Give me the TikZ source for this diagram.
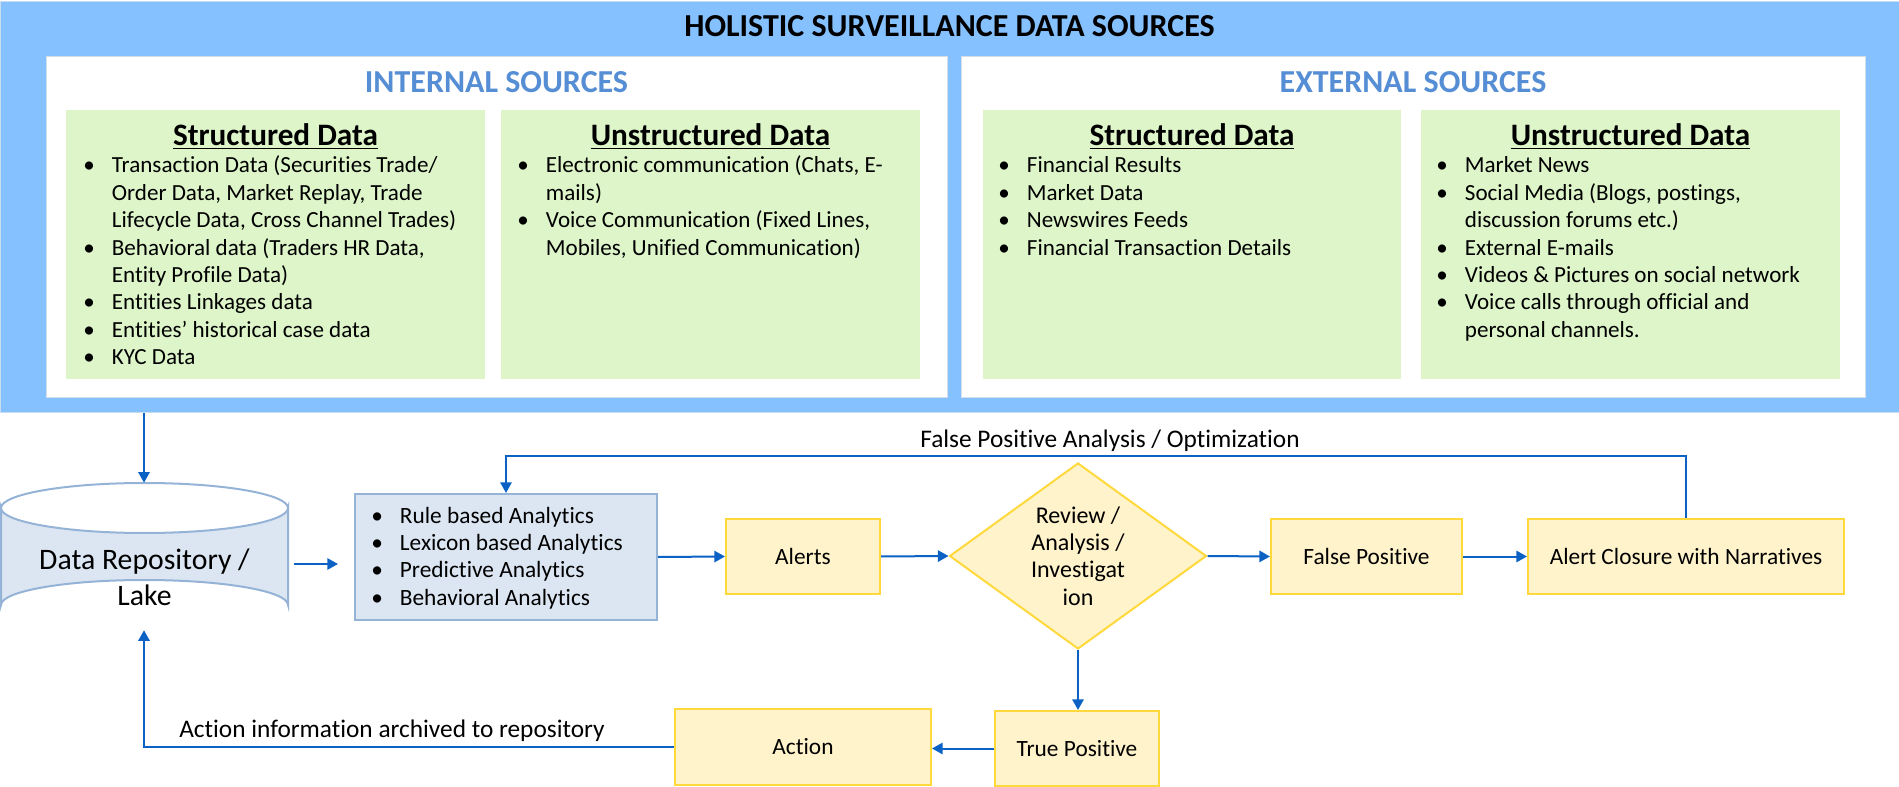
\documentclass[tikz,border=0pt]{standalone}
\usepackage{fontspec}
\setmainfont{Carlito}[Ligatures={NoCommon}]
\usetikzlibrary{arrows.meta,fit,shapes.geometric,calc}
\definecolor{outerblue}{HTML}{85C1FF}
\definecolor{outerline}{HTML}{C8DDF2}
\definecolor{whiteline}{HTML}{D5DEE8}
\definecolor{greenfill}{HTML}{DDF5C9}
\definecolor{srcblue}{HTML}{558ED5}
\definecolor{anafill}{HTML}{DCE6F2}
\definecolor{analine}{HTML}{95B3D7}
\definecolor{yfill}{HTML}{FFF3CB}
\definecolor{yline}{HTML}{FFD93B}
\definecolor{arrc}{HTML}{0B62C4}
\newcommand\listfont{\fontsize{17.3}{20.55}\selectfont}
\newcommand\headfont{\fontsize{23.4}{27}\selectfont\bfseries}
\newcommand\titlefont{\fontsize{24}{28}\selectfont\bfseries}
\newcommand\srcfont{\fontsize{24}{28}\selectfont\bfseries\color{srcblue}}
\newcommand\flowfont{\fontsize{17.5}{20.55}\selectfont}
\newcommand\diafont{\fontsize{18}{20.55}\selectfont}
\newcommand\lblfont{\fontsize{19}{22}\selectfont}
\newcommand\repofont{\fontsize{22.3}{27}\selectfont}
\newcommand\bul{\makebox[21.5pt][l]{\textbullet}}
\newcommand\ind{\hspace*{21.5pt}}
\begin{document}
\begin{tikzpicture}[x=0.75pt,y=-0.75pt,
  whitebox/.style={fill=white,draw=whiteline,line width=0.75pt,inner sep=0pt},
  greenbox/.style={fill=greenfill,draw=none,inner sep=0pt},
  ybox/.style={rectangle,fill=yfill,draw=yline,line width=1.5pt,inner sep=0pt,font=\flowfont,minimum height=56.25pt},
  anabox/.style={fill=anafill,draw=analine,line width=1.5pt,inner sep=0pt},
  lst/.style={anchor=base west,inner sep=0pt},
  head/.style={anchor=base,inner sep=0pt,font=\headfont},
  arr/.style={draw=arrc,line width=1.5pt,-{Triangle[length=8pt,width=8.5pt]}},
  lbl/.style={anchor=base,inner sep=0pt,font=\lblfont}]
\useasboundingbox (0,0) rectangle (1899,787);

% top panel
\node[fit={(0,2)(1899,413)},inner sep=0pt,fill=outerblue,draw=outerline,line width=0.75pt] (hol) {};
\node[anchor=base,inner sep=0pt,font=\titlefont] (title) at (949.5,37) {HOLISTIC SURVEILLANCE DATA SOURCES};

\node[whitebox,fit={(46,57)(947,398)}] (intbox) {};
\node[whitebox,fit={(961,57)(1865,398)}] (extbox) {};
\node[anchor=base,inner sep=0pt,font=\srcfont] (inttitle) at (496.5,93) {INTERNAL SOURCES};
\node[anchor=base,inner sep=0pt,font=\srcfont] (exttitle) at (1413,93) {EXTERNAL SOURCES};

\node[greenbox,fit={(66,110)(485,379)}] (isbox) {};
\node[greenbox,fit={(501,110)(920,379)}] (iubox) {};
\node[greenbox,fit={(983,110)(1401,379)}] (esbox) {};
\node[greenbox,fit={(1421,110)(1840,379)}] (eubox) {};

\node[head] (ishead) at (275.5,146) {\underline{Structured Data}};
\node[head] (iuhead) at (710.5,146) {\underline{Unstructured Data}};
\node[head] (eshead) at (1192,146) {\underline{Structured Data}};
\node[head] (euhead) at (1630.5,146) {\underline{Unstructured Data}};

\node[lst] (islist) at (83,173) {\listfont\begin{tabular}[t]{@{}l@{}}
\bul Transaction Data (Securities Trade/\\
\ind Order Data, Market Replay, Trade\\
\ind Lifecycle Data, Cross Channel Trades)\\
\bul Behavioral data (Traders HR Data,\\
\ind Entity Profile Data)\\
\bul Entities Linkages data\\
\bul Entities’ historical case data\\
\bul KYC Data
\end{tabular}};
\node[lst] (iulist) at (517,173) {\listfont\begin{tabular}[t]{@{}l@{}}
\bul Electronic communication (Chats, E-\\
\ind mails)\\
\bul Voice Communication (Fixed Lines,\\
\ind Mobiles, Unified Communication)
\end{tabular}};
\node[lst] (eslist) at (998,173) {\listfont\begin{tabular}[t]{@{}l@{}}
\bul Financial Results\\
\bul Market Data\\
\bul Newswires Feeds\\
\bul Financial Transaction Details
\end{tabular}};
\node[lst] (eulist) at (1436,173) {\listfont\begin{tabular}[t]{@{}l@{}}
\bul Market News\\
\bul Social Media (Blogs, postings,\\
\ind discussion forums etc.)\\
\bul External E-mails\\
\bul Videos \& Pictures on social network\\
\bul Voice calls through official and\\
\ind personal channels.
\end{tabular}};

% repository cylinder
\node[fit={(1,483)(288,630)},inner sep=0pt] (repo) {};
\draw[fill=anafill,draw=analine,line width=1.5pt]
  (1,508) -- (1,605) arc[start angle=180,end angle=360,x radius=143.5,y radius=25]
  -- (288,508) arc[start angle=0,end angle=180,x radius=143.5,y radius=25] -- cycle;
\draw[draw=analine,line width=1.5pt] (1,508) arc[start angle=180,end angle=360,x radius=143.5,y radius=25];
\node[align=center,font=\repofont,inner sep=0pt] (repotext) at (144.5,577) {Data Repository /\\Lake};

% flow boxes
\node[anabox,fit={(355,494)(657,620)}] (ana) {};
\node[lst] (analist) at (371,523) {\flowfont\begin{tabular}[t]{@{}l@{}}
\bul Rule based Analytics\\
\bul Lexicon based Analytics\\
\bul Predictive Analytics\\
\bul Behavioral Analytics
\end{tabular}};
\node[ybox,minimum width=115.5pt] (alerts) at (803,556.5) {Alerts};
\node[diamond,fill=yfill,draw=yline,line width=1.5pt,inner sep=0pt,aspect=1.38,
  minimum width=192.75pt,minimum height=139.5pt,align=center,font=\diafont] (dia) at (1078,556)
  {Review /\\Analysis /\\Investigat\\ion};
\node[ybox,minimum width=143.25pt] (fp) at (1366.5,556.5) {False Positive};
\node[ybox,minimum width=237pt] (acl) at (1686,556.5) {Alert Closure with Narratives};
\node[ybox,minimum width=123pt] (tp) at (1077,748.5) {True Positive};
\node[ybox,minimum width=192pt,minimum height=57pt] (act) at (803,747) {Action};

% connectors
\coordinate (fbl) at (0,456);
\coordinate (arl) at (144,0);
\draw[arr] (hol.south -| arl) -- (repo.north -| arl);
\draw[arr] ([shift={(6,7.5)}]repo.east) -- ([shift={(-16,7.5)}]repo.east -| ana.west);
\draw[arr] (ana.east) -- (alerts.west);
\draw[arr] (alerts.east) -- (dia.west);
\draw[arr] (dia.east) -- (fp.west);
\draw[arr] (fp.east) -- (acl.west);
\draw[arr] (acl.north) -- (acl.north |- fbl) -| (ana.north);
\draw[arr] (dia.south) -- (tp.north -| dia.south);
\draw[arr] (tp.west) -- (tp.west -| act.east);
\draw[arr] (act.west) -- (act.west -| arl) -- (repo.south -| arl);

\node[lbl] (fplabel) at (1110,448) {False Positive Analysis / Optimization};
\node[lbl] (actlabel) at (392,737) {Action information archived to repository};
\end{tikzpicture}
\end{document}
